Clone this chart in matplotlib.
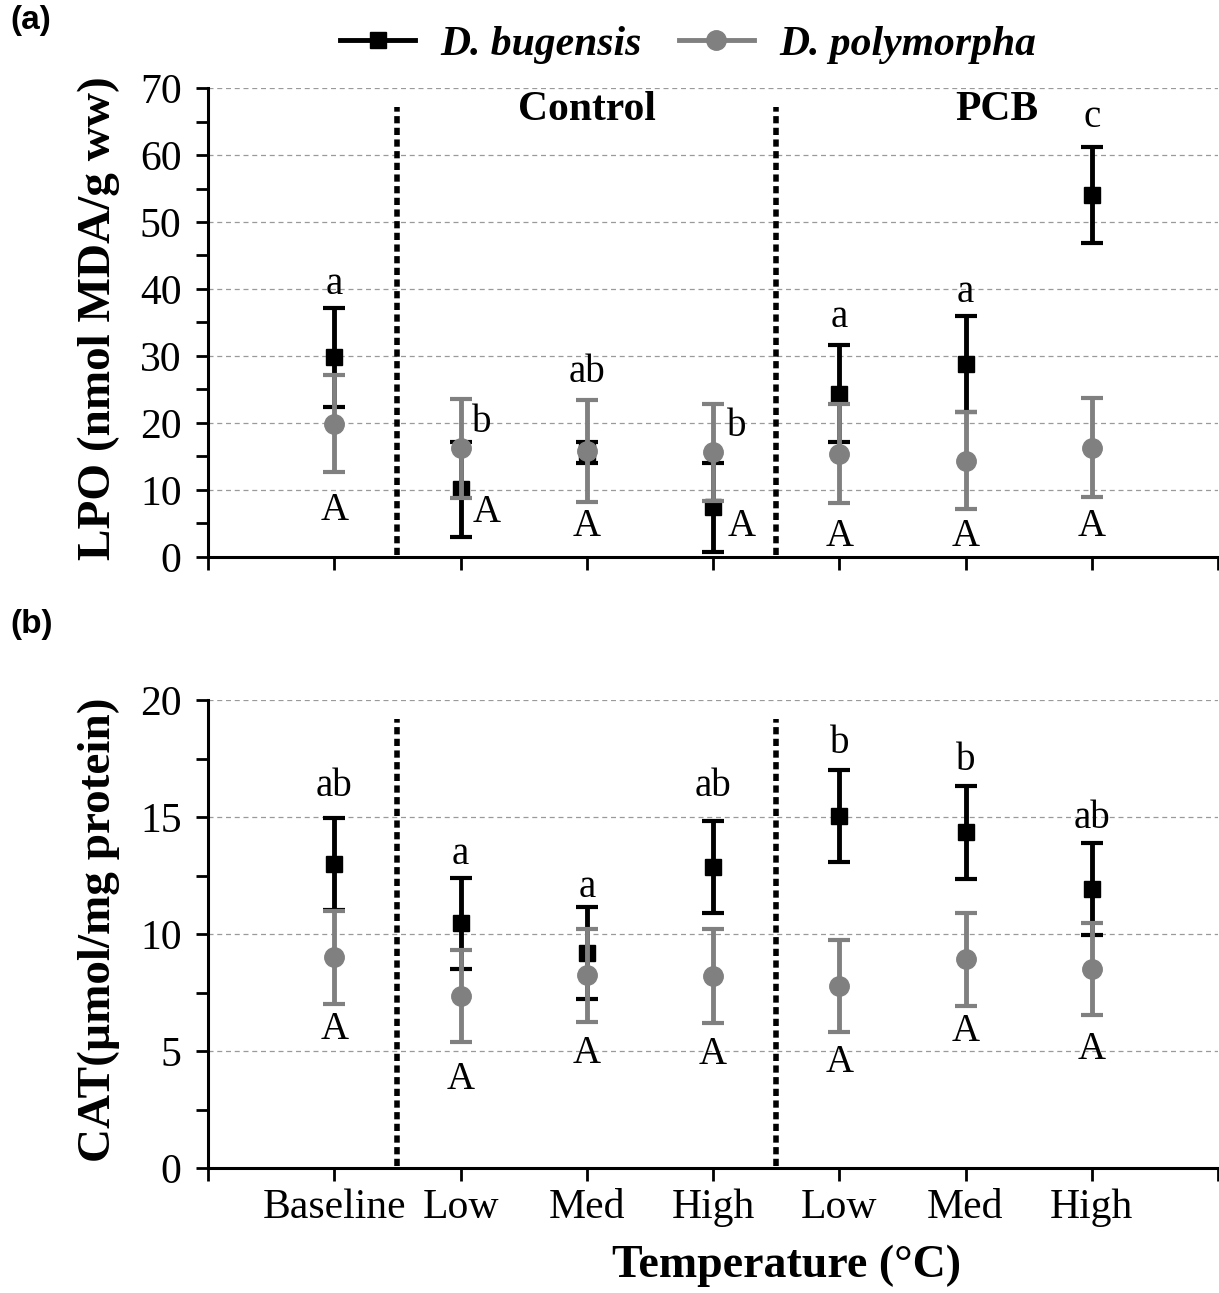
import matplotlib.pyplot as plt
import numpy as np
from matplotlib.lines import Line2D
from matplotlib.ticker import MultipleLocator

plt.rcParams['font.family'] = ['Liberation Serif', 'DejaVu Serif']

grupos = ['Baseline', 'Low', 'Med', 'High', 'Low', 'Med', 'High']

# LPO (nmol MDA/g ww)
lpo_bug = [29.8, 10.1, 15.6, 7.4, 24.4, 28.8, 54.0]
lpo_bug_err = [7.4, 7.1, 1.5, 6.6, 7.3, 7.1, 7.2]
lpo_poly = [19.9, 16.2, 15.8, 15.6, 15.4, 14.4, 16.3]
lpo_poly_err = [7.2, 7.4, 7.6, 7.3, 7.4, 7.3, 7.4]

# CAT (umol/mg protein)
cat_bug = [13.0, 10.45, 9.2, 12.85, 15.05, 14.35, 11.93]
cat_bug_err = [1.97, 1.95, 1.96, 1.97, 1.97, 1.98, 1.96]
cat_poly = [9.0, 7.34, 8.23, 8.2, 7.77, 8.92, 8.5]
cat_poly_err = [2.0, 1.96, 1.97, 2.0, 1.96, 1.98, 1.96]

# letras de significância
lpo_min = ['a', 'b', 'ab', 'b', 'a', 'a', 'c']
lpo_min_x = [0, 0.17, 0, 0.19, 0, 0, 0]
lpo_min_y = [40.6, 20.0, 27.5, 19.5, 35.8, 39.5, 65.6]
lpo_mai = ['A'] * 7
lpo_mai_x = [0, 0.21, 0, 0.23, 0, 0, 0]
lpo_mai_y = [7.0, 6.6, 4.6, 4.6, 3.1, 3.1, 4.6]

cat_min = ['ab', 'a', 'a', 'ab', 'b', 'b', 'ab']
cat_min_y = [16.3, 13.4, 12.0, 16.3, 18.15, 17.4, 14.95]
cat_mai = ['A'] * 7
cat_mai_y = [5.9, 3.8, 4.9, 4.85, 4.5, 5.85, 5.05]

x = np.arange(1, len(grupos) + 1)
cinza = '#808080'

fig = plt.figure(figsize=(12.19, 12.93), dpi=100)
ax1 = fig.add_axes([208/1219, 1-557/1293, 1010/1219, 469/1293])
ax2 = fig.add_axes([208/1219, 1-1168/1293, 1010/1219, 468/1293])


def painel(ax, bug, bug_err, poly, poly_err, ymax, passo, minor, ylabel):
    ax.errorbar(x, bug, yerr=bug_err, fmt='s', color='black', ms=12,
                elinewidth=3.5, capsize=8, capthick=3, zorder=3)
    ax.errorbar(x, poly, yerr=poly_err, fmt='o', color=cinza, ms=14,
                elinewidth=3.5, capsize=8, capthick=3, zorder=4)
    ax.set_xlim(0, 8)
    ax.set_ylim(0, ymax)
    ax.set_yticks(np.arange(0, ymax + 0.1, passo))
    ax.yaxis.set_minor_locator(MultipleLocator(minor))
    ax.set_xticks(range(9))
    ax.yaxis.grid(True, linestyle=(0, (4, 3)), color='#9a9a9a', lw=0.9)
    ax.set_axisbelow(True)
    for s in ['top', 'right']:
        ax.spines[s].set_visible(False)
    for s in ['left', 'bottom']:
        ax.spines[s].set_linewidth(2.2)
    ax.tick_params(axis='y', which='both', direction='out', length=9,
                   width=2, labelsize=30, pad=10)
    ax.tick_params(axis='x', direction='out', length=9, width=2,
                   labelsize=30, pad=6)
    for xv in [1.5, 4.5]:
        ax.plot([xv, xv], [ymax*0.005, ymax*0.96], color='black', lw=4,
                linestyle=(0, (1.3, 0.8)), dash_capstyle='butt', zorder=2)
    ax.text(-0.108, 0.51, ylabel, transform=ax.transAxes, rotation=90,
            ha='center', va='center', fontsize=34, fontweight='bold')


painel(ax1, lpo_bug, lpo_bug_err, lpo_poly, lpo_poly_err, 70, 10, 5,
       'LPO (nmol MDA/g ww)')
painel(ax2, cat_bug, cat_bug_err, cat_poly, cat_poly_err, 20, 5, 2.5,
       'CAT(µmol/mg protein)')

ax1.set_xticklabels([''] * 9)
ax2.set_xticklabels([''] + grupos + [''])

for i in range(len(grupos)):
    ax1.text(x[i] + lpo_min_x[i], lpo_min_y[i], lpo_min[i], fontsize=28,
             ha='center', va='center')
    ax1.text(x[i] + lpo_mai_x[i], lpo_mai_y[i], lpo_mai[i], fontsize=28,
             ha='center', va='center')
    ax2.text(x[i], cat_min_y[i], cat_min[i], fontsize=28,
             ha='center', va='center')
    ax2.text(x[i], cat_mai_y[i], cat_mai[i], fontsize=28,
             ha='center', va='center')

ax1.text(3, 66.7, 'Control', fontsize=30, fontweight='bold',
         ha='center', va='center')
ax1.text(6.25, 66.7, 'PCB', fontsize=30, fontweight='bold',
         ha='center', va='center')

fig.text(786/1219, 1-1266/1293, 'Temperature (°C)', fontsize=33,
         fontweight='bold', ha='center', va='center')

fig.text(10/1219, 1-20/1293, '(a)', fontsize=24, fontweight='bold',
         family='Liberation Sans', ha='left', va='center')
fig.text(10/1219, 1-625/1293, '(b)', fontsize=24, fontweight='bold',
         family='Liberation Sans', ha='left', va='center')

handles = [Line2D([], [], color='black', marker='s', ms=12, lw=3.5),
           Line2D([], [], color=cinza, marker='o', ms=14, lw=3.5)]
fig.legend(handles, ['D. bugensis', 'D. polymorpha'], loc='center',
           bbox_to_anchor=(688/1219, 1-45/1293), ncol=2, frameon=False,
           handlelength=1.8, handletextpad=0.6, columnspacing=0.9,
           prop={'size': 30, 'weight': 'bold', 'style': 'italic'})

fig.savefig('out.png', dpi=100)
